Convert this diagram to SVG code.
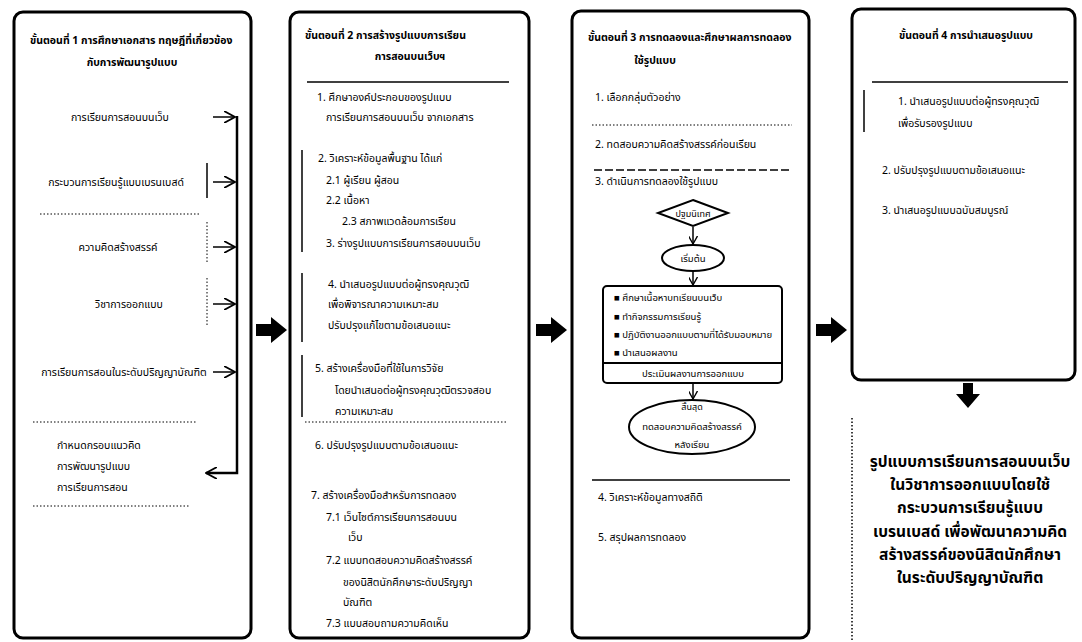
<svg xmlns="http://www.w3.org/2000/svg" width="1082" height="642" viewBox="0 0 1082 642">
<defs>
<style>
.col{fill:#fff;stroke:#000;stroke-width:3}
.t{font-family:"Noto Sans Thai","Noto Sans",sans-serif;font-size:10.5px;fill:#000}
.h{font-family:"Noto Sans Thai","Noto Sans",sans-serif;font-size:10.5px;font-weight:bold;fill:#000}
.big{font-family:"Noto Sans Thai","Noto Sans",sans-serif;font-size:15.5px;font-weight:bold;fill:#000}
.c{text-anchor:middle}
.ln{stroke:#000;stroke-width:1.5;fill:none}
.dot{stroke:#000;stroke-width:1;stroke-dasharray:1.5 2;fill:none}
.dash{stroke:#000;stroke-width:1.5;stroke-dasharray:8 3;fill:none}
.thin{stroke:#000;stroke-width:2;fill:none}
.blk{fill:#000}
</style>
<marker id="ah" viewBox="0 0 12 12" refX="11" refY="6" markerWidth="12" markerHeight="12" markerUnits="userSpaceOnUse" orient="auto">
<path d="M0,0 L11,6 L0,12" fill="none" stroke="#000" stroke-width="1.8"/>
</marker>
<marker id="ahs" viewBox="0 0 10 10" refX="9" refY="5" markerWidth="9" markerHeight="9" markerUnits="userSpaceOnUse" orient="auto">
<path d="M0,0 L9,5 L0,10" fill="none" stroke="#000" stroke-width="1.5"/>
</marker>
</defs>
<rect width="1082" height="642" fill="#fff"/>

<g id="step1">
<rect class="col" x="14" y="12" width="237" height="626" rx="9"/>
<text class="h" x="30" y="44">ขั้นตอนที่ 1 การศึกษาเอกสาร ทฤษฎีที่เกี่ยวข้อง</text>
<text class="h c" x="132" y="66">กับการพัฒนารูปแบบ</text>
<text class="t c" x="120" y="121">การเรียนการสอนบนเว็บ</text>
<text class="t c" x="116" y="186">กระบวนการเรียนรู้แบบเบรนเบสด์</text>
<text class="t c" x="118" y="251">ความคิดสร้างสรรค์</text>
<text class="t c" x="129" y="308">วิชาการออกแบบ</text>
<text class="t c" x="124" y="376">การเรียนการสอนในระดับปริญญาบัณฑิต</text>
<line class="ln" x1="207" y1="163" x2="207" y2="198"/>
<line class="dot" x1="40" y1="214" x2="200" y2="214"/>
<line class="dot" x1="207" y1="222" x2="207" y2="262"/>
<line class="dot" x1="207" y1="278" x2="207" y2="327"/>
<line class="dot" x1="33" y1="422" x2="197" y2="422"/>
<text class="t" x="57" y="449">กำหนดกรอบแนวคิด</text>
<text class="t" x="57" y="470">การพัฒนารูปแบบ</text>
<text class="t" x="57" y="491">การเรียนการสอน</text>
<line class="dot" x1="33" y1="506" x2="190" y2="506"/>
</g>

<g id="step2">
<rect class="col" x="290" y="12" width="239" height="626" rx="9"/>
<text class="h" x="305" y="39">ขั้นตอนที่ 2 การสร้างรูปแบบการเรียน</text>
<text class="h c" x="410" y="60">การสอนบนเว็บฯ</text>
<line class="ln" x1="307" y1="82" x2="509" y2="82"/>
<text class="t" x="317" y="101">1. ศึกษาองค์ประกอบของรูปแบบ</text>
<text class="t" x="326" y="121">การเรียนการสอนบนเว็บ จากเอกสาร</text>
<line class="ln" x1="302" y1="150" x2="302" y2="252"/>
<text class="t" x="318" y="162">2. วิเคราะห์ข้อมูลพื้นฐาน ได้แก่</text>
<text class="t" x="326" y="184">2.1 ผู้เรียน ผู้สอน</text>
<text class="t" x="326" y="204">2.2 เนื้อหา</text>
<text class="t" x="342" y="225">2.3 สภาพแวดล้อมการเรียน</text>
<text class="t" x="326" y="247">3. ร่างรูปแบบการเรียนการสอนบนเว็บ</text>
<line class="ln" x1="302" y1="273" x2="302" y2="342"/>
<text class="t" x="328" y="288">4. นำเสนอรูปแบบต่อผู้ทรงคุณวุฒิ</text>
<text class="t" x="328" y="308">เพื่อพิจารณาความเหมาะสม</text>
<text class="t" x="328" y="329">ปรับปรุงแก้ไขตามข้อเสนอแนะ</text>
<line class="ln" x1="302" y1="355" x2="302" y2="417"/>
<text class="t" x="315" y="372">5. สร้างเครื่องมือที่ใช้ในการวิจัย</text>
<text class="t" x="335" y="394">โดยนำเสนอต่อผู้ทรงคุณวุฒิตรวจสอบ</text>
<text class="t" x="335" y="415">ความเหมาะสม</text>
<line class="dot" x1="305" y1="422" x2="508" y2="422"/>
<text class="t" x="315" y="449">6. ปรับปรุงรูปแบบตามข้อเสนอแนะ</text>
<text class="t" x="311" y="499">7. สร้างเครื่องมือสำหรับการทดลอง</text>
<text class="t" x="326" y="521">7.1 เว็บไซต์การเรียนการสอนบน</text>
<text class="t" x="348" y="541">เว็บ</text>
<text class="t" x="326" y="564">7.2 แบบทดสอบความคิดสร้างสรรค์</text>
<text class="t" x="343" y="586">ของนิสิตนักศึกษาระดับปริญญา</text>
<text class="t" x="343" y="606">บัณฑิต</text>
<text class="t" x="326" y="627">7.3 แบบสอบถามความคิดเห็น</text>
</g>

<g id="step3">
<rect class="col" x="572" y="11" width="237" height="627" rx="9"/>
<text class="h" x="588" y="41">ขั้นตอนที่ 3 การทดลองและศึกษาผลการทดลอง</text>
<text class="h c" x="655" y="64">ใช้รูปแบบ</text>
<text class="t" x="595" y="101">1. เลือกกลุ่มตัวอย่าง</text>
<line class="dot" x1="592" y1="125" x2="792" y2="125"/>
<text class="t" x="595" y="148">2. ทดสอบความคิดสร้างสรรค์ก่อนเรียน</text>
<line class="dash" x1="594" y1="170" x2="792" y2="170"/>
<text class="t" x="595" y="185">3. ดำเนินการทดลองใช้รูปแบบ</text>
<path class="thin" d="M693,200 L728,213 L693,226 L658,213 Z"/>
<text class="t c" x="693" y="217" style="font-size:9px">ปฐมนิเทศ</text>
<line class="ln" x1="693" y1="227" x2="693" y2="244" marker-end="url(#ahs)"/>
<ellipse class="thin" cx="693" cy="258" rx="31" ry="13"/>
<text class="t c" x="693" y="262" style="font-size:9.5px">เริ่มต้น</text>
<line class="ln" x1="693" y1="271" x2="693" y2="285" marker-end="url(#ahs)"/>
<rect class="thin" x="603" y="286" width="179" height="97" rx="4"/>
<line class="thin" x1="603" y1="363" x2="782" y2="363"/>
<text class="t" x="614" y="301" style="font-size:9.5px">■ ศึกษาเนื้อหาบทเรียนบนเว็บ</text>
<text class="t" x="614" y="320" style="font-size:9.5px">■ ทำกิจกรรมการเรียนรู้</text>
<text class="t" x="614" y="338" style="font-size:9.5px">■ ปฏิบัติงานออกแบบตามที่ได้รับมอบหมาย</text>
<text class="t" x="614" y="356" style="font-size:9.5px">■ นำเสนอผลงาน</text>
<text class="t c" x="693" y="377" style="font-size:9.5px">ประเมินผลงานการออกแบบ</text>
<line class="ln" x1="693" y1="383" x2="693" y2="399" marker-end="url(#ahs)"/>
<ellipse class="thin" cx="692" cy="427" rx="63" ry="27"/>
<text class="t c" x="692" y="410" style="font-size:9px">สิ้นสุด</text>
<text class="t c" x="692" y="430" style="font-size:9.5px">ทดสอบความคิดสร้างสรรค์</text>
<text class="t c" x="692" y="448" style="font-size:9.5px">หลังเรียน</text>
<line class="ln" x1="592" y1="480" x2="790" y2="480"/>
<text class="t" x="598" y="501">4. วิเคราะห์ข้อมูลทางสถิติ</text>
<text class="t" x="598" y="541">5. สรุปผลการทดลอง</text>
</g>

<g id="step4">
<rect class="col" x="852" y="9" width="223" height="371" rx="9"/>
<text class="h c" x="966" y="39">ขั้นตอนที่ 4 การนำเสนอรูปแบบ</text>
<line class="ln" x1="872" y1="82" x2="1068" y2="82"/>
<line class="ln" x1="864" y1="90" x2="864" y2="132"/>
<text class="t" x="898" y="105">1. นำเสนอรูปแบบต่อผู้ทรงคุณวุฒิ</text>
<text class="t" x="898" y="127">เพื่อรับรองรูปแบบ</text>
<text class="t" x="882" y="174">2. ปรับปรุงรูปแบบตามข้อเสนอแนะ</text>
<text class="t" x="882" y="214">3. นำเสนอรูปแบบฉบับสมบูรณ์</text>
</g>

<g id="result">
<line class="dot" x1="852" y1="418" x2="852" y2="640" style="stroke-width:1.5"/>
<text class="big c" x="970" y="467">รูปแบบการเรียนการสอนบนเว็บ</text>
<text class="big c" x="970" y="490">ในวิชาการออกแบบโดยใช้</text>
<text class="big c" x="970" y="513">กระบวนการเรียนรู้แบบ</text>
<text class="big c" x="970" y="537">เบรนเบสด์ เพื่อพัฒนาความคิด</text>
<text class="big c" x="970" y="560">สร้างสรรค์ของนิสิตนักศึกษา</text>
<text class="big c" x="970" y="583">ในระดับปริญญาบัณฑิต</text>
</g>

<g id="connectors">
<line class="ln" x1="213" y1="117" x2="235" y2="117" marker-end="url(#ah)"/>
<line class="ln" x1="213" y1="182" x2="235" y2="182" marker-end="url(#ah)"/>
<line class="ln" x1="213" y1="247" x2="235" y2="247" marker-end="url(#ah)"/>
<line class="ln" x1="213" y1="304" x2="235" y2="304" marker-end="url(#ah)"/>
<line class="ln" x1="213" y1="372" x2="235" y2="372" marker-end="url(#ah)"/>
<polyline points="237,116 237,473 206,473" fill="none" stroke="#000" stroke-width="2.5" marker-end="url(#ah)"/>
<path class="blk" d="M256,324 H271 V317 L287,330 L271,343 V336 H256 Z"/>
<path class="blk" d="M536,324 H551 V317 L567,330 L551,343 V336 H536 Z"/>
<path class="blk" d="M816,324 H831 V317 L847,330 L831,343 V336 H816 Z"/>
<path class="blk" d="M963,383 V394 H956 L968,408 L980,394 H973 V383 Z"/>
</g>
</svg>
